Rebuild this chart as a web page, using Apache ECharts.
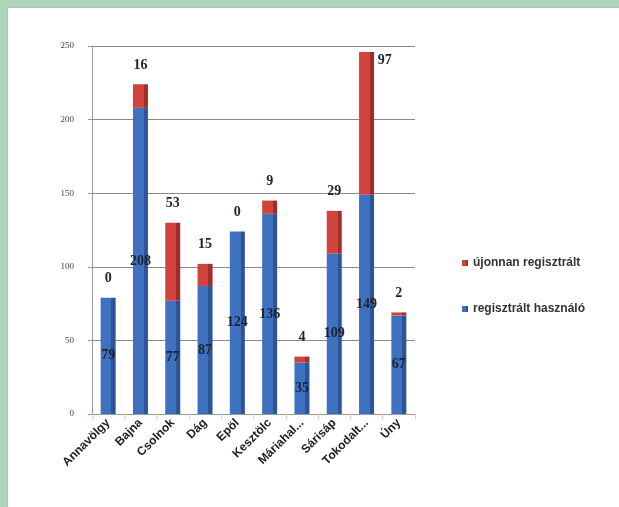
<!DOCTYPE html>
<html>
<head>
<meta charset="utf-8">
<script src="https://cdn.jsdelivr.net/npm/echarts@6/dist/echarts.min.js"></script>
<style>
  html, body { margin: 0; padding: 0; background: #ffffff; }
  #frame { position: absolute; left: 0; top: 0; width: 619px; height: 507px; box-sizing: border-box;
           border-top: 7px solid #aed4b9; border-left: 7px solid #aed4b9; background: #fff; }
  #inner { position: absolute; left: 0; top: 0; right: 0; bottom: 0; border-top: 1px solid #bdbdbd; border-left: 1px solid #bdbdbd; }
  #chart { position: absolute; left: 0; top: 0; width: 619px; height: 507px; }
</style>
</head>
<body>
<div id="frame"><div id="inner"></div></div>
<div id="chart"></div>
<script>
const categories = ['Annavölgy', 'Bajna', 'Csolnok', 'Dág', 'Epöl', 'Kesztölc', 'Máriahalom', 'Sárisáp', 'Tokodaltáró', 'Úny'];
const registeredUsers = [79, 208, 77, 87, 124, 136, 35, 109, 149, 67];
const newlyRegistered = [0, 16, 53, 15, 0, 9, 4, 29, 97, 2];
const yTicks = [0, 50, 100, 150, 200, 250];
const seriesNames = ['újonnan regisztrált', 'regisztrált használó'];

function grad(front, side) {
  return new echarts.graphic.LinearGradient(0, 0, 1, 0, [
    { offset: 0, color: front }, { offset: 0.72, color: front },
    { offset: 0.72, color: side }, { offset: 1, color: side }
  ]);
}

const chart = echarts.init(document.getElementById('chart'), null, { renderer: 'canvas' });
const labelFont = { fontFamily: 'Liberation Serif', fontWeight: 'bold', fontSize: 14, color: '#1c2233' };

const totals = registeredUsers.map((b, j) => b + newlyRegistered[j]);
const maxTotal = Math.max(...totals);
const redData = newlyRegistered.map((v, i) => {
  const item = { value: v };
  if (totals[i] === maxTotal) {
    item.label = { position: ['125%', 2], align: 'left', verticalAlign: 'top' };
  }
  return item;
});

chart.setOption({
  animation: false,
  grid: { left: 92, right: 204, top: 46, bottom: 93 },
  legend: {
    orient: 'vertical', left: 457, top: 252, itemGap: 34, itemWidth: 6, itemHeight: 6,
    icon: 'rect', data: seriesNames,
    textStyle: { fontFamily: 'Liberation Sans', fontSize: 12, fontWeight: 'bold', color: '#333' }
  },
  xAxis: {
    type: 'category', data: categories,
    axisLine: { lineStyle: { color: '#9a9a9a' } },
    axisTick: { show: true, alignWithLabel: false, lineStyle: { color: '#f0c890' } },
    axisLabel: {
      rotate: 45, interval: 0, margin: 7, fontFamily: 'Liberation Sans', fontWeight: 'bold', fontSize: 12, color: '#222',
      formatter: v => v.length > 9 ? v.slice(0, 8) + '...' : v
    }
  },
  yAxis: {
    type: 'value', min: yTicks[0], max: yTicks[yTicks.length - 1], interval: yTicks[1] - yTicks[0],
    axisLine: { show: true, lineStyle: { color: '#9a9a9a' } },
    axisTick: { show: true, length: 4, lineStyle: { color: '#9a9a9a' } },
    splitLine: { lineStyle: { color: '#8a8a8a', width: 1 } },
    axisLabel: { margin: 18, fontFamily: 'Liberation Serif', fontSize: 9, color: '#444' }
  },
  series: [
    {
      name: seriesNames[1], type: 'bar', stack: 'total', barWidth: 15, data: registeredUsers,
      itemStyle: { color: grad('#3f71c1', '#2b5596') },
      label: Object.assign({ show: true, position: 'inside' }, labelFont)
    },
    {
      name: seriesNames[0], type: 'bar', stack: 'total', barWidth: 15, data: redData,
      itemStyle: { color: grad('#d0443d', '#9e2e2a') },
      label: Object.assign({ show: true, position: 'top', distance: 12 }, labelFont)
    }
  ]
});
</script>
</body>
</html>
